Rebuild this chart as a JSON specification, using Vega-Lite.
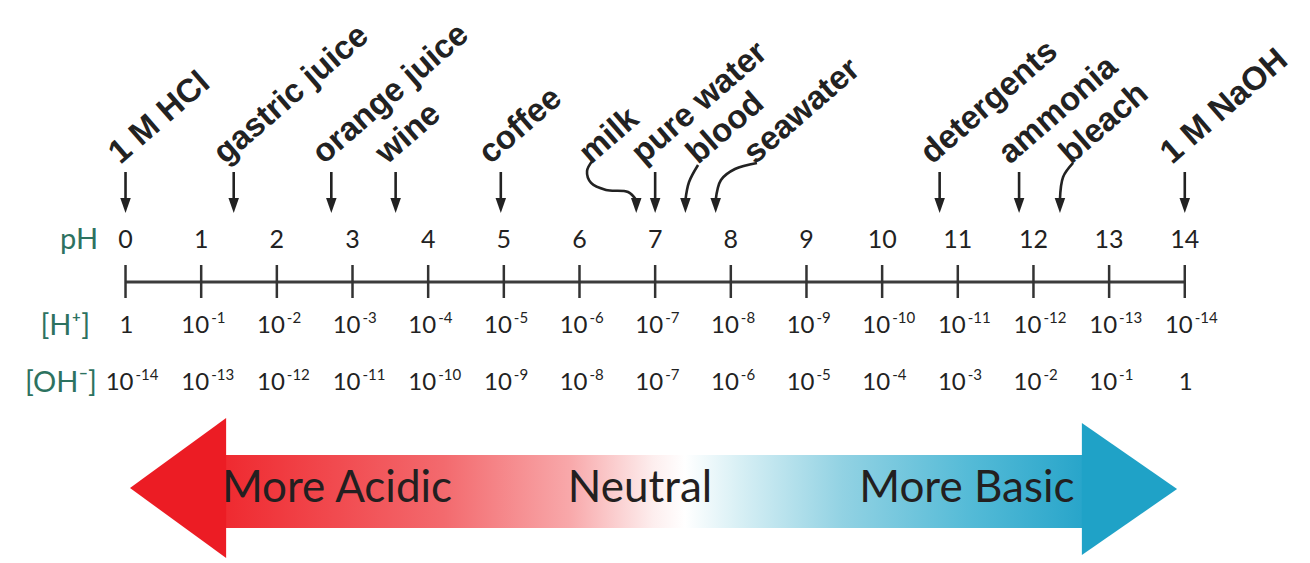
{
  "$schema": "https://vega.github.io/schema/vega-lite/v6.json",
  "width": 1310,
  "height": 563,
  "padding": 0,
  "autosize": {"type": "fit", "contains": "padding"},
  "background": "white",
  "config": {"view": {"stroke": null}},
  "datasets": {
    "scale": [
      {"ph": 0, "hb": "1", "he": "", "ob": "10", "oe": "-14"},
      {"ph": 1, "hb": "10", "he": "-1", "ob": "10", "oe": "-13"},
      {"ph": 2, "hb": "10", "he": "-2", "ob": "10", "oe": "-12"},
      {"ph": 3, "hb": "10", "he": "-3", "ob": "10", "oe": "-11"},
      {"ph": 4, "hb": "10", "he": "-4", "ob": "10", "oe": "-10"},
      {"ph": 5, "hb": "10", "he": "-5", "ob": "10", "oe": "-9"},
      {"ph": 6, "hb": "10", "he": "-6", "ob": "10", "oe": "-8"},
      {"ph": 7, "hb": "10", "he": "-7", "ob": "10", "oe": "-7"},
      {"ph": 8, "hb": "10", "he": "-8", "ob": "10", "oe": "-6"},
      {"ph": 9, "hb": "10", "he": "-9", "ob": "10", "oe": "-5"},
      {"ph": 10, "hb": "10", "he": "-10", "ob": "10", "oe": "-4"},
      {"ph": 11, "hb": "10", "he": "-11", "ob": "10", "oe": "-3"},
      {"ph": 12, "hb": "10", "he": "-12", "ob": "10", "oe": "-2"},
      {"ph": 13, "hb": "10", "he": "-13", "ob": "10", "oe": "-1"},
      {"ph": 14, "hb": "10", "he": "-14", "ob": "1", "oe": ""}
    ],
    "subs": [
      {"name": "1 M HCl", "ph": 0, "label_ph": -0.07, "curved": false},
      {"name": "gastric juice", "ph": 1.43, "label_ph": 1.315, "curved": false},
      {"name": "orange juice", "ph": 2.72, "label_ph": 2.62, "curved": false},
      {"name": "wine", "ph": 3.57, "label_ph": 3.457, "curved": false},
      {"name": "coffee", "ph": 4.96, "label_ph": 4.82, "curved": false},
      {"name": "milk", "ph": 6.75, "label_ph": 6.15, "curved": true},
      {"name": "pure water", "ph": 7, "label_ph": 6.84, "curved": false},
      {"name": "blood", "ph": 7.4, "label_ph": 7.567, "curved": true},
      {"name": "seawater", "ph": 7.8, "label_ph": 8.32, "curved": true},
      {"name": "detergents", "ph": 10.76, "label_ph": 10.66, "curved": false},
      {"name": "ammonia", "ph": 11.81, "label_ph": 11.69, "curved": false},
      {"name": "bleach", "ph": 12.35, "label_ph": 12.497, "curved": true},
      {"name": "1 M NaOH", "ph": 14, "label_ph": 13.83, "curved": false}
    ],
    "curves": [
      {"name": "milk", "step": 1, "ph": 6.179, "level": 71.58},
      {"name": "milk", "step": 2, "ph": 6.1, "level": 69.63},
      {"name": "milk", "step": 3, "ph": 6.153, "level": 67.5},
      {"name": "milk", "step": 4, "ph": 6.351, "level": 66.25},
      {"name": "milk", "step": 5, "ph": 6.642, "level": 65.9},
      {"name": "milk", "step": 6, "ph": 6.75, "level": 64.48},
      {"name": "blood", "step": 1, "ph": 7.567, "level": 70.69},
      {"name": "blood", "step": 2, "ph": 7.448, "level": 67.67},
      {"name": "blood", "step": 3, "ph": 7.4, "level": 64.48},
      {"name": "seawater", "step": 1, "ph": 8.346, "level": 71.05},
      {"name": "seawater", "step": 2, "ph": 8.055, "level": 69.98},
      {"name": "seawater", "step": 3, "ph": 7.87, "level": 68.03},
      {"name": "seawater", "step": 4, "ph": 7.8, "level": 64.48},
      {"name": "bleach", "step": 1, "ph": 12.524, "level": 71.05},
      {"name": "bleach", "step": 2, "ph": 12.392, "level": 68.56},
      {"name": "bleach", "step": 3, "ph": 12.35, "level": 64.48}
    ],
    "headLeft": [
      {"ph": 0.059, "top": 13.32, "bottom": 13.32},
      {"ph": 1.33, "top": 25.75, "bottom": 0.89}
    ],
    "headRight": [
      {"ph": 12.64, "top": 24.87, "bottom": 1.42},
      {"ph": 13.898, "top": 13.14, "bottom": 13.14}
    ],
    "body": [
      {"from": 1.315, "to": 12.656, "top": 19.18, "bottom": 6.22}
    ],
    "arrowText": [
      {"text": "More Acidic", "ph": 2.795},
      {"text": "Neutral", "ph": 6.8},
      {"text": "More Basic", "ph": 11.12}
    ]
  },
  "layer": [
    {
      "data": {"name": "body"},
      "mark": {
        "type": "rect",
        "color": {
          "gradient": "linear",
          "x1": 0, "x2": 1, "y1": 0, "y2": 0,
          "stops": [
            {"offset": 0, "color": "#ef2a30"},
            {"offset": 0.255, "color": "#f36a6e"},
            {"offset": 0.402, "color": "#f8a8aa"},
            {"offset": 0.499, "color": "#fdeeee"},
            {"offset": 0.536, "color": "#ffffff"},
            {"offset": 0.597, "color": "#d9f0f5"},
            {"offset": 0.719, "color": "#92d2e3"},
            {"offset": 0.866, "color": "#55bbd7"},
            {"offset": 1, "color": "#28a5ca"}
          ]
        }
      },
      "encoding": {
        "x": {"field": "from", "type": "quantitative", "scale": {"domain": [-1.659, 15.655], "nice": false, "zero": false}, "axis": null},
        "x2": {"field": "to"},
        "y": {"field": "top", "type": "quantitative", "scale": {"domain": [0, 100], "nice": false, "zero": false}, "axis": null},
        "y2": {"field": "bottom"}
      }
    },
    {
      "data": {"name": "headLeft"},
      "mark": {"type": "area", "color": "#ec1c24", "opacity": 1},
      "encoding": {
        "x": {"field": "ph", "type": "quantitative", "scale": {"domain": [-1.659, 15.655], "nice": false, "zero": false}, "axis": null},
        "y": {"field": "top", "type": "quantitative", "scale": {"domain": [0, 100], "nice": false, "zero": false}, "axis": null},
        "y2": {"field": "bottom"}
      }
    },
    {
      "data": {"name": "headRight"},
      "mark": {"type": "area", "color": "#1fa2c7", "opacity": 1},
      "encoding": {
        "x": {"field": "ph", "type": "quantitative", "scale": {"domain": [-1.659, 15.655], "nice": false, "zero": false}, "axis": null},
        "y": {"field": "top", "type": "quantitative", "scale": {"domain": [0, 100], "nice": false, "zero": false}, "axis": null},
        "y2": {"field": "bottom"}
      }
    },
    {
      "data": {"name": "arrowText"},
      "mark": {"type": "text", "font": "Lato", "fontSize": 44, "color": "#231f20", "align": "center", "baseline": "alphabetic"},
      "encoding": {
        "x": {"field": "ph", "type": "quantitative", "scale": {"domain": [-1.659, 15.655], "nice": false, "zero": false}, "axis": null},
        "y": {"datum": 10.83, "type": "quantitative", "scale": {"domain": [0, 100], "nice": false, "zero": false}, "axis": null},
        "text": {"field": "text"}
      }
    },
    {
      "data": {"values": [{"from": 0, "to": 14}]},
      "mark": {"type": "rule", "color": "#3c3c3c", "strokeWidth": 3.2},
      "encoding": {
        "x": {"field": "from", "type": "quantitative", "scale": {"domain": [-1.659, 15.655], "nice": false, "zero": false}, "axis": null},
        "x2": {"field": "to"},
        "y": {"datum": 49.91, "type": "quantitative", "scale": {"domain": [0, 100], "nice": false, "zero": false}, "axis": null}
      }
    },
    {
      "data": {"name": "scale"},
      "mark": {"type": "rule", "color": "#333333", "strokeWidth": 2.5},
      "encoding": {
        "x": {"field": "ph", "type": "quantitative", "scale": {"domain": [-1.659, 15.655], "nice": false, "zero": false}, "axis": null},
        "y": {"datum": 52.93, "type": "quantitative", "scale": {"domain": [0, 100], "nice": false, "zero": false}, "axis": null},
        "y2": {"datum": 47.07}
      }
    },
    {
      "data": {"name": "scale"},
      "mark": {"type": "text", "font": "Lato", "fontSize": 25, "color": "#222222", "align": "center", "baseline": "middle"},
      "encoding": {
        "x": {"field": "ph", "type": "quantitative", "scale": {"domain": [-1.659, 15.655], "nice": false, "zero": false}, "axis": null},
        "y": {"datum": 57.37, "type": "quantitative", "scale": {"domain": [0, 100], "nice": false, "zero": false}, "axis": null},
        "text": {"field": "ph", "type": "quantitative", "format": "d"}
      }
    },
    {
      "data": {"name": "scale"},
      "mark": {"type": "text", "font": "Lato", "fontSize": 24, "color": "#222222", "align": "right", "baseline": "middle", "dx": 8},
      "encoding": {
        "x": {"field": "ph", "type": "quantitative", "scale": {"domain": [-1.659, 15.655], "nice": false, "zero": false}, "axis": null},
        "y": {"datum": 42.1, "type": "quantitative", "scale": {"domain": [0, 100], "nice": false, "zero": false}, "axis": null},
        "text": {"field": "hb"}
      }
    },
    {
      "data": {"name": "scale"},
      "mark": {"type": "text", "font": "Lato", "fontSize": 15, "color": "#222222", "align": "left", "baseline": "middle", "dx": 10, "dy": -8},
      "encoding": {
        "x": {"field": "ph", "type": "quantitative", "scale": {"domain": [-1.659, 15.655], "nice": false, "zero": false}, "axis": null},
        "y": {"datum": 42.1, "type": "quantitative", "scale": {"domain": [0, 100], "nice": false, "zero": false}, "axis": null},
        "text": {"field": "he"}
      }
    },
    {
      "data": {"name": "scale"},
      "mark": {"type": "text", "font": "Lato", "fontSize": 24, "color": "#222222", "align": "right", "baseline": "middle", "dx": 8},
      "encoding": {
        "x": {"field": "ph", "type": "quantitative", "scale": {"domain": [-1.659, 15.655], "nice": false, "zero": false}, "axis": null},
        "y": {"datum": 31.97, "type": "quantitative", "scale": {"domain": [0, 100], "nice": false, "zero": false}, "axis": null},
        "text": {"field": "ob"}
      }
    },
    {
      "data": {"name": "scale"},
      "mark": {"type": "text", "font": "Lato", "fontSize": 15, "color": "#222222", "align": "left", "baseline": "middle", "dx": 10, "dy": -8},
      "encoding": {
        "x": {"field": "ph", "type": "quantitative", "scale": {"domain": [-1.659, 15.655], "nice": false, "zero": false}, "axis": null},
        "y": {"datum": 31.97, "type": "quantitative", "scale": {"domain": [0, 100], "nice": false, "zero": false}, "axis": null},
        "text": {"field": "oe"}
      }
    },
    {
      "data": {"values": [{"label": "pH"}]},
      "mark": {"type": "text", "font": "Lato", "fontSize": 29, "color": "#2d7260", "align": "right", "baseline": "middle"},
      "encoding": {
        "x": {"datum": -0.363, "type": "quantitative", "scale": {"domain": [-1.659, 15.655], "nice": false, "zero": false}, "axis": null},
        "y": {"datum": 57.37, "type": "quantitative", "scale": {"domain": [0, 100], "nice": false, "zero": false}, "axis": null},
        "text": {"field": "label"}
      }
    },
    {
      "data": {"values": [{"label": "[H⁺]"}]},
      "mark": {"type": "text", "font": "Lato", "fontSize": 29, "color": "#2d7260", "align": "right", "baseline": "middle"},
      "encoding": {
        "x": {"datum": -0.469, "type": "quantitative", "scale": {"domain": [-1.659, 15.655], "nice": false, "zero": false}, "axis": null},
        "y": {"datum": 42.1, "type": "quantitative", "scale": {"domain": [0, 100], "nice": false, "zero": false}, "axis": null},
        "text": {"field": "label"}
      }
    },
    {
      "data": {"values": [{"label": "[OH⁻]"}]},
      "mark": {"type": "text", "font": "Lato", "fontSize": 29, "color": "#2d7260", "align": "right", "baseline": "middle"},
      "encoding": {
        "x": {"datum": -0.377, "type": "quantitative", "scale": {"domain": [-1.659, 15.655], "nice": false, "zero": false}, "axis": null},
        "y": {"datum": 31.97, "type": "quantitative", "scale": {"domain": [0, 100], "nice": false, "zero": false}, "axis": null},
        "text": {"field": "label"}
      }
    },
    {
      "data": {"name": "subs"},
      "transform": [{"filter": "!datum.curved"}],
      "mark": {"type": "rule", "color": "#222222", "strokeWidth": 2.6},
      "encoding": {
        "x": {"field": "ph", "type": "quantitative", "scale": {"domain": [-1.659, 15.655], "nice": false, "zero": false}, "axis": null},
        "y": {"datum": 69.45, "type": "quantitative", "scale": {"domain": [0, 100], "nice": false, "zero": false}, "axis": null},
        "y2": {"datum": 64.48}
      }
    },
    {
      "data": {"name": "curves"},
      "mark": {"type": "line", "color": "#222222", "strokeWidth": 2.6, "interpolate": "catmull-rom"},
      "encoding": {
        "x": {"field": "ph", "type": "quantitative", "scale": {"domain": [-1.659, 15.655], "nice": false, "zero": false}, "axis": null},
        "y": {"field": "level", "type": "quantitative", "scale": {"domain": [0, 100], "nice": false, "zero": false}, "axis": null},
        "detail": {"field": "name"},
        "order": {"field": "step", "type": "quantitative"}
      }
    },
    {
      "data": {"name": "subs"},
      "mark": {"type": "point", "shape": "M-0.7,-2L0.7,-2L0,0Z", "size": 225, "filled": true, "color": "#222222", "opacity": 1, "strokeWidth": 0},
      "encoding": {
        "x": {"field": "ph", "type": "quantitative", "scale": {"domain": [-1.659, 15.655], "nice": false, "zero": false}, "axis": null},
        "y": {"datum": 62.17, "type": "quantitative", "scale": {"domain": [0, 100], "nice": false, "zero": false}, "axis": null}
      }
    },
    {
      "data": {"name": "subs"},
      "mark": {"type": "text", "font": "Liberation Sans", "fontSize": 33, "fontWeight": "bold", "color": "#222222", "align": "left", "baseline": "alphabetic", "angle": -41},
      "encoding": {
        "x": {"field": "label_ph", "type": "quantitative", "scale": {"domain": [-1.659, 15.655], "nice": false, "zero": false}, "axis": null},
        "y": {"datum": 70.69, "type": "quantitative", "scale": {"domain": [0, 100], "nice": false, "zero": false}, "axis": null},
        "text": {"field": "name"}
      }
    }
  ]
}
